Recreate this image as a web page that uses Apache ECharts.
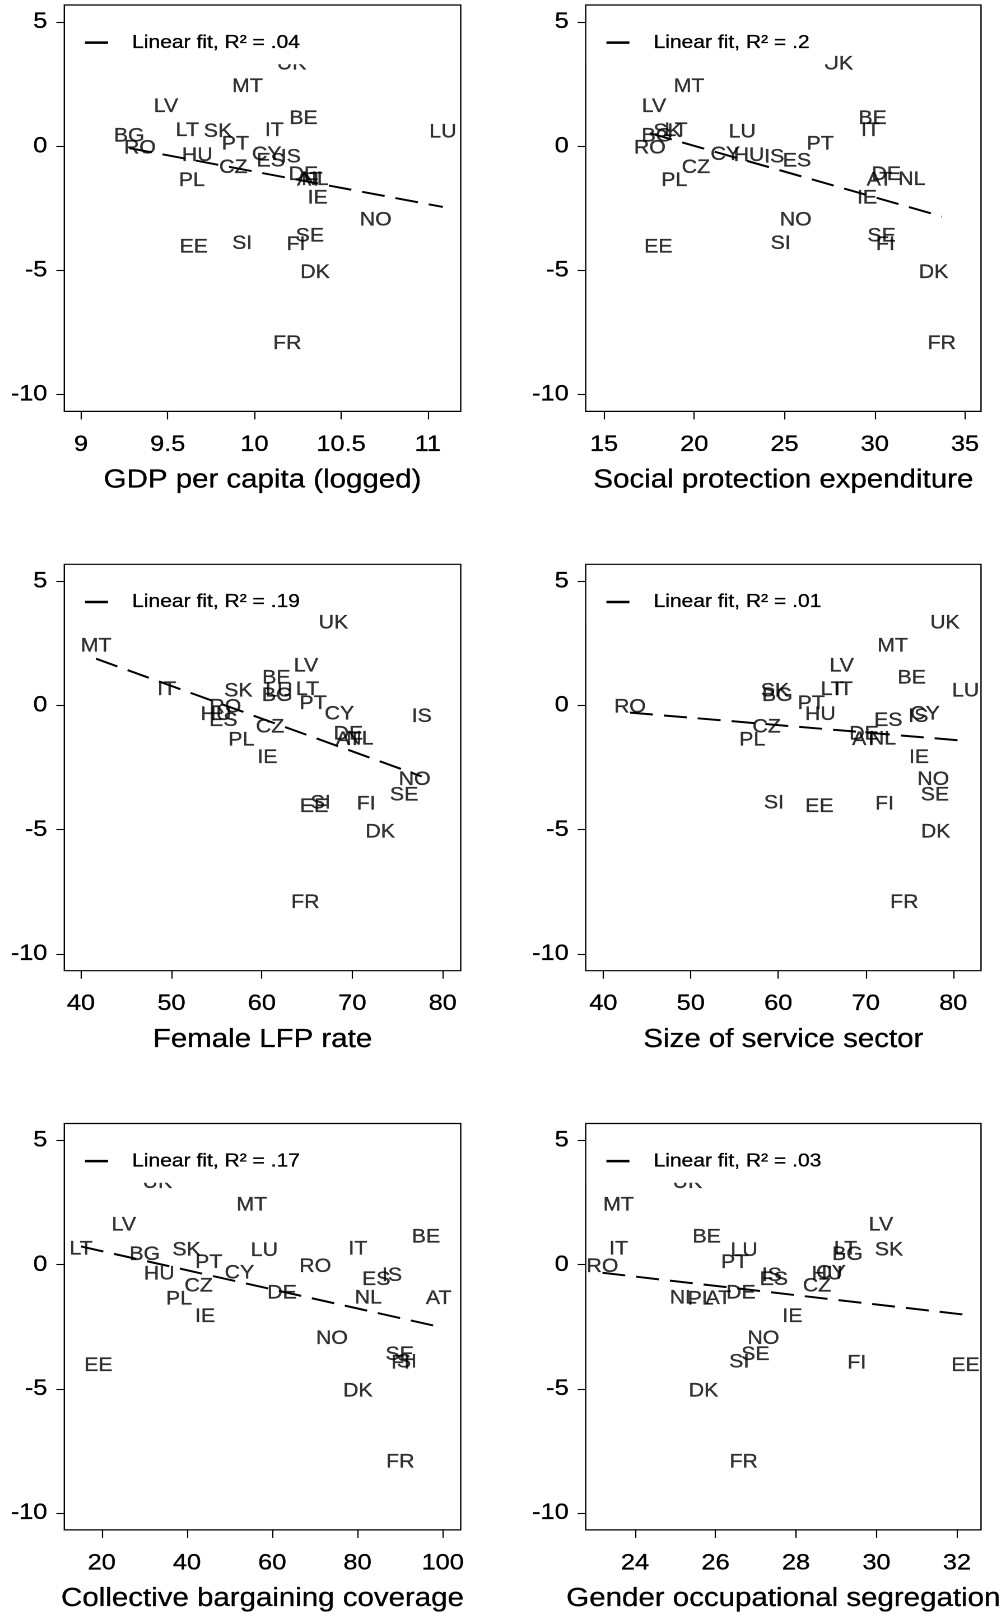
<!DOCTYPE html>
<html>
<head>
<meta charset="utf-8">
<script src="https://cdn.jsdelivr.net/npm/echarts@6/dist/echarts.min.js"></script>
<style>
  html, body { margin: 0; padding: 0; background: #fff; }
  #wrap { width: 1006px; height: 1616px; overflow: hidden; }
  /* the figure is drawn on a narrower canvas and widened to the page width */
  #chart { width: 898px; height: 1616px; transform: scaleX(1.12027); transform-origin: 0 0; }
</style>
</head>
<body>
<div id="wrap"><div id="chart"></div></div>
<script>
// Country codes (marker labels)
const countries = ['AT','BE','BG','CY','CZ','DE','DK','EE','ES','FI','FR','HU','IE','IS','IT','LT','LU','LV','MT','NL','NO','PL','PT','RO','SE','SI','SK','UK'];

// Outcome on the vertical axis (same for every panel)
const outcome = [-1.38, 1.10, 0.39, -0.35, -0.88, -1.16, -5.10, -4.08, -0.61, -3.97, -7.95, -0.38, -2.11, -0.45, 0.62, 0.62, 0.56, 1.58, 2.38, -1.36, -2.99, -1.40, 0.07, -0.08, -3.62, -3.93, 0.57, 3.30];

// Predictors, one per panel (same country order)
const gdpLogged   = [10.32, 10.283, 9.278, 10.071, 9.879, 10.283, 10.35, 9.65, 10.094, 10.24, 10.19, 9.671, 10.365, 10.21, 10.115, 9.613, 11.087, 9.49, 9.96, 10.35, 10.70, 9.639, 9.89, 9.34, 10.32, 9.93, 9.79, 10.215];
const socialProt  = [30.26, 29.88, 17.93, 21.72, 20.09, 30.64, 33.26, 18.01, 25.69, 30.59, 33.71, 23.03, 29.57, 24.43, 29.76, 18.99, 22.66, 17.77, 19.71, 32.05, 25.62, 18.89, 26.98, 17.54, 30.38, 24.79, 18.52, 27.98];
const femaleLfp   = [69.6, 61.6, 61.7, 68.57, 60.9, 69.57, 73.08, 65.77, 55.74, 71.53, 64.81, 54.93, 60.61, 77.68, 49.48, 65.03, 61.9, 64.88, 41.66, 70.85, 76.9, 57.73, 65.66, 55.96, 75.73, 66.5, 57.4, 67.91];
const serviceSize = [69.9, 75.24, 59.89, 76.77, 58.67, 69.79, 77.98, 64.69, 72.57, 72.15, 74.4, 64.8, 76.08, 76.0, 67.43, 66.17, 81.41, 67.24, 73.07, 71.9, 77.71, 57.03, 63.77, 43.05, 77.9, 59.5, 59.62, 79.05];
const bargaining  = [99.05, 96.07, 30.1, 52.3, 42.75, 62.3, 80.1, 19.2, 84.4, 90.1, 90.05, 33.5, 44.24, 88.1, 80.1, 15.15, 58.15, 25.2, 55.2, 82.55, 74.0, 38.14, 45.1, 70.1, 89.9, 91.6, 39.9, 33.06];
const segregation = [26.07, 25.78, 29.28, 28.87, 28.52, 26.63, 25.7, 32.21, 27.45, 29.51, 26.70, 28.77, 27.91, 27.4, 23.59, 29.23, 26.71, 30.11, 23.59, 25.2, 27.19, 25.63, 26.47, 23.19, 26.99, 26.59, 30.31, 25.3];

// Linear-fit end points per panel
const fitGdp      = { x: [9.278, 11.087], y: [-0.08, -2.45] };
const fitSocial   = { x: [17.54, 33.71],  y: [0.52, -2.83] };
const fitLfp      = { x: [41.66, 77.68],  y: [1.88, -2.86] };
const fitService  = { x: [43.05, 81.41],  y: [-0.29, -1.43] };
const fitBargain  = { x: [15.15, 99.05],  y: [0.73, -2.50] };
const fitSegreg   = { x: [23.19, 32.21],  y: [-0.33, -2.02] };

// Tick labels
const yTicks = [-10, -5, 0, 5];
const xTicksGdp     = [9, 9.5, 10, 10.5, 11];
const xTicksSocial  = [15, 20, 25, 30, 35];
const xTicksLfp     = [40, 50, 60, 70, 80];
const xTicksService = [40, 50, 60, 70, 80];
const xTicksBargain = [20, 40, 60, 80, 100];
const xTicksSegreg  = [24, 26, 28, 30, 32];

const panels = [
  { title: 'GDP per capita (logged)',         x: gdpLogged,   fit: fitGdp,     fitName: 'Linear fit, R\u00b2 = .04', ticks: xTicksGdp },
  { title: 'Social protection expenditure',   x: socialProt,  fit: fitSocial,  fitName: 'Linear fit, R\u00b2 = .2',  ticks: xTicksSocial },
  { title: 'Female LFP rate',                 x: femaleLfp,   fit: fitLfp,     fitName: 'Linear fit, R\u00b2 = .19', ticks: xTicksLfp },
  { title: 'Size of service sector',          x: serviceSize, fit: fitService, fitName: 'Linear fit, R\u00b2 = .01', ticks: xTicksService },
  { title: 'Collective bargaining coverage',  x: bargaining,  fit: fitBargain, fitName: 'Linear fit, R\u00b2 = .17', ticks: xTicksBargain },
  { title: 'Gender occupational segregation', x: segregation, fit: fitSegreg,  fitName: 'Linear fit, R\u00b2 = .03', ticks: xTicksSegreg }
];

// Horizontal widening applied by CSS; horizontal sizes below are in page pixels
const SX = 1006 / 898;
const hx = v => v / SX;

// Plot-region geometry (page pixels) and axis ranges for the 3x2 layout
const Y_MIN = -10.68, Y_MAX = 5.68;
const frames = [
  { left: 64.3,  top: 5,      width: 396.4, height: 406.4, xMin: 8.9037, xMax: 11.19 },
  { left: 585.7, top: 5,      width: 395.3, height: 406.4, xMin: 13.986, xMax: 35.886 },
  { left: 64.3,  top: 564.3,  width: 396.4, height: 406.4, xMin: 38.153, xMax: 81.99 },
  { left: 585.7, top: 564.3,  width: 395.3, height: 406.4, xMin: 37.99,  xMax: 83.17 },
  { left: 64.3,  top: 1123.5, width: 396.4, height: 406.4, xMin: 11.226, xMax: 104.22 },
  { left: 585.7, top: 1123.5, width: 395.3, height: 406.4, xMin: 22.774, xMax: 32.597 }
];

const FONT = '"Liberation Sans", Arial, Helvetica, sans-serif';
const INK = '#000';
// slight stroke so the glyphs carry the same weight as the printed figure
const TEXT_WEIGHT = { textBorderColor: '#000', textBorderWidth: 0.3 };

const option = {
  animation: false,
  backgroundColor: '#fff',
  grid: [], xAxis: [], yAxis: [], legend: [], series: []
};

panels.forEach((p, i) => {
  const f = frames[i];
  option.grid.push({
    left: hx(f.left), top: f.top, width: hx(f.width), height: f.height,
    show: true, borderColor: '#000', borderWidth: 1.2, backgroundColor: '#fff', containLabel: false
  });
  option.xAxis.push({
    gridIndex: i, type: 'value', position: 'bottom', min: f.xMin, max: f.xMax,
    name: p.title, nameLocation: 'middle', nameGap: 56,
    nameTextStyle: Object.assign({ fontFamily: FONT, fontSize: 26.3, color: INK }, TEXT_WEIGHT),
    axisLine: { show: false, onZero: false }, splitLine: { show: false },
    axisTick: { show: true, length: 8, customValues: p.ticks, lineStyle: { color: '#000', width: 1.1 } },
    axisLabel: Object.assign({ customValues: p.ticks, margin: 21.8, fontFamily: FONT, fontSize: 22.6, color: INK }, TEXT_WEIGHT)
  });
  option.yAxis.push({
    gridIndex: i, type: 'value', position: 'left', min: Y_MIN, max: Y_MAX,
    axisLine: { show: false, onZero: false }, splitLine: { show: false },
    axisTick: { show: true, length: hx(8), customValues: yTicks, lineStyle: { color: '#000', width: 1.1 } },
    axisLabel: Object.assign({ customValues: yTicks, margin: hx(17), fontFamily: FONT, fontSize: 22.6, color: INK }, TEXT_WEIGHT)
  });
  option.legend.push({
    left: hx(f.left + 0.7), top: f.top + 16,
    data: [{ name: p.fitName, icon: 'rect' }],
    itemWidth: hx(23), itemHeight: 2.5,
    itemStyle: { color: '#000', borderWidth: 0 },
    textStyle: Object.assign({ fontFamily: FONT, fontSize: 18.8, color: INK, padding: [0, 0, 0, hx(18.5)] }, TEXT_WEIGHT),
    padding: [12, hx(19), 12, hx(20)],
    backgroundColor: '#fff',
    selectedMode: false,
    z: 10
  });
  option.series.push({
    name: 'countries' + i, type: 'scatter', xAxisIndex: i, yAxisIndex: i,
    data: countries.map((c, k) => [p.x[k], outcome[k], c]),
    symbol: 'circle', symbolSize: 1,
    itemStyle: { color: 'rgba(0,0,0,0)' },
    label: Object.assign({
      show: true, position: 'inside', formatter: d => d.value[2],
      fontFamily: FONT, fontSize: 19, color: INK
    }, TEXT_WEIGHT),
    silent: true, emphasis: { disabled: true }
  });
  option.series.push({
    name: p.fitName, type: 'line', xAxisIndex: i, yAxisIndex: i,
    data: [[p.fit.x[0], p.fit.y[0]], [p.fit.x[1], p.fit.y[1]]],
    symbol: 'none', color: '#000',
    lineStyle: { color: '#000', width: 2, type: [hx(23), hx(11)] },
    silent: true, emphasis: { disabled: true }
  });
});

const chart = echarts.init(document.getElementById('chart'), null, { devicePixelRatio: 2 });
chart.setOption(option);
</script>
</body>
</html>
